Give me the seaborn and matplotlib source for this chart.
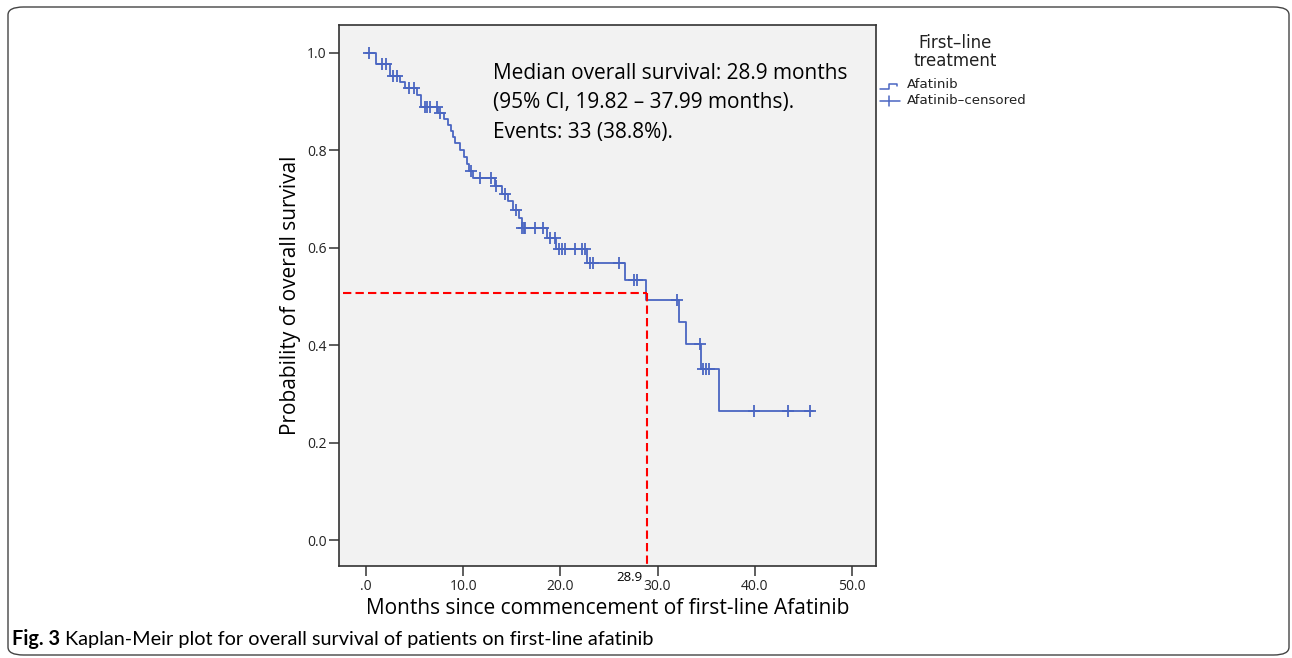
import numpy as np
import matplotlib
matplotlib.use('Agg')
import matplotlib.pyplot as plt
import seaborn as sns
from matplotlib.lines import Line2D
from matplotlib.patches import FancyBboxPatch

# Kaplan-Meier steps (time in months, survival after the step)
step_times = [0.0, 1.0, 2.5, 3.5, 4.0, 5.2, 5.6, 7.4, 8.0, 8.4, 8.7, 8.9, 9.1, 9.7, 10.1, 10.4,
              10.6, 11.0, 13.3, 14.0, 14.6, 15.1, 15.7, 16.0, 18.6, 19.5, 22.7, 26.7, 28.8,
              32.2, 32.9, 34.45, 36.3, 46.0]
step_surv = [1.0, 0.976, 0.952, 0.940, 0.927, 0.914, 0.889, 0.877, 0.865, 0.852, 0.840, 0.828,
             0.815, 0.801, 0.786, 0.771, 0.757, 0.743, 0.727, 0.711, 0.695, 0.678, 0.660, 0.641,
             0.619, 0.597, 0.569, 0.534, 0.492, 0.447, 0.402, 0.352, 0.265, 0.265]

# censored patients (time in months)
censor_times = [0.3, 1.6, 2.0, 2.8, 3.2, 4.4, 4.9, 6.1, 6.3, 6.6, 7.3, 7.6, 10.8, 11.7, 12.9,
                13.4, 14.3, 15.4, 16.05, 16.2, 16.4, 17.4, 18.2, 18.9, 19.4, 19.9, 20.2, 20.5,
                21.5, 22.2, 22.5, 23.0, 23.4, 26.0, 27.6, 27.9, 32.0, 34.35, 34.7, 35.0, 35.3,
                39.9, 43.4, 45.7]

median_time = 28.9
median_level = 0.507

x_ticks = [0, 10, 20, 30, 40, 50]
x_ticklabels = ['.0', '10.0', '20.0', '30.0', '40.0', '50.0']
y_ticks = [0.0, 0.2, 0.4, 0.6, 0.8, 1.0]
y_ticklabels = ['0.0', '0.2', '0.4', '0.6', '0.8', '1.0']

# survival level at each censor time (value of the step curve)
idx = np.searchsorted(step_times, censor_times, side='right') - 1
censor_surv = [step_surv[i] for i in idx]

sns.set_style('white')
plt.rcParams['font.family'] = ['Open Sans', 'DejaVu Sans']
plt.rcParams['text.color'] = 'black'
plt.rcParams['axes.labelcolor'] = 'black'

blue = '#4a66c2'
W, H = 1292, 658
fig = plt.figure(figsize=(W / 100, H / 100), dpi=100)
ax = fig.add_axes([339 / W, 1 - 566 / H, 537 / W, 541 / H])
ax.set_facecolor('#f2f2f2')

sns.lineplot(x=step_times, y=step_surv, drawstyle='steps-post', estimator=None,
             color=blue, linewidth=1.3, ax=ax)
sns.scatterplot(x=censor_times, y=censor_surv, marker='+', s=80, color=blue,
                linewidth=1.3, ax=ax, zorder=3)

# median lines
ax.plot([-5, median_time], [median_level, median_level], color='red', ls=(0, (4, 2)), lw=1.5)
ax.plot([median_time, median_time], [median_level, -0.2], color='red', ls=(0, (4, 2)), lw=1.5)

ax.set_xlim(-2.8, 52.5)
ax.set_ylim(-0.053, 1.057)
ax.set_xticks(x_ticks)
ax.set_xticklabels(x_ticklabels)
ax.set_yticks(y_ticks)
ax.set_yticklabels(y_ticklabels)
ax.tick_params(axis='both', direction='out', length=7, width=1.1, color='#333333',
               labelsize=10, labelcolor='#222222', pad=2, left=True, bottom=True)
for s in ax.spines.values():
    s.set_color('#333333')
    s.set_linewidth(1.2)

ax.set_xlabel('Months since commencement of first-line Afatinib', fontsize=15, labelpad=3)
ax.set_ylabel('Probability of overall survival', fontsize=15, labelpad=4)

ax.annotate('28.9', xy=(median_time - 0.4, -0.022), xycoords=('data', 'axes fraction'),
            ha='right', va='center', fontsize=9.5, annotation_clip=False)


# legend, drawn by hand to mimic the step icon
def fx(px):
    return (px - 339) / 537


def fy(py):
    return (566 - py) / 541


ax.text(fx(493), fy(63),
        'Median overall survival: 28.9 months\n(95% CI, 19.82 \u2013 37.99 months).\nEvents: 33 (38.8%).',
        transform=ax.transAxes, ha='left', va='top', fontsize=15, linespacing=1.53)

tr = ax.transAxes
ax.add_line(Line2D([fx(880), fx(889), fx(889), fx(897), fx(897)],
                   [fy(88.5), fy(88.5), fy(83.5), fy(83.5), fy(86)],
                   color=blue, lw=1.1, transform=tr, clip_on=False))
ax.add_line(Line2D([fx(880), fx(900)], [fy(101), fy(101)], color=blue, lw=1.1,
                   transform=tr, clip_on=False))
ax.add_line(Line2D([fx(889), fx(889)], [fy(96), fy(106)], color=blue, lw=1.1,
                   transform=tr, clip_on=False))
leg_font = ['DejaVu Sans']
ax.text(fx(955), fy(52), 'First\u2013line\ntreatment', transform=tr, ha='center', va='center',
        fontsize=12, linespacing=1.0, color='#222222', family=leg_font)
ax.text(fx(907), fy(85), 'Afatinib', transform=tr, ha='left', va='center', fontsize=9.6,
        color='#222222', family=leg_font)
ax.text(fx(907), fy(101), 'Afatinib\u2013censored', transform=tr, ha='left', va='center',
        fontsize=9.6, color='#222222', family=leg_font)

# rounded outer frame
fig.patches.append(FancyBboxPatch((8 / W, 3 / H), 1281 / W, 648 / H,
                                  boxstyle='round,pad=0,rounding_size=0.012',
                                  transform=fig.transFigure, fill=False,
                                  edgecolor='#444444', lw=1.0))

# caption
fig.canvas.draw()
cap1 = fig.text(12 / W, 1 - 639 / H, 'Fig. 3', fontsize=14.3, fontweight='bold',
                family=['Lato', 'DejaVu Sans'], va='center')
bb = cap1.get_window_extent(fig.canvas.get_renderer())
fig.text(bb.x1 / W + 5 / W, 1 - 639 / H,
         'Kaplan-Meir plot for overall survival of patients on first-line afatinib',
         fontsize=14.3, family=['Lato', 'DejaVu Sans'], va='center')

fig.savefig('out.png', dpi=100)
